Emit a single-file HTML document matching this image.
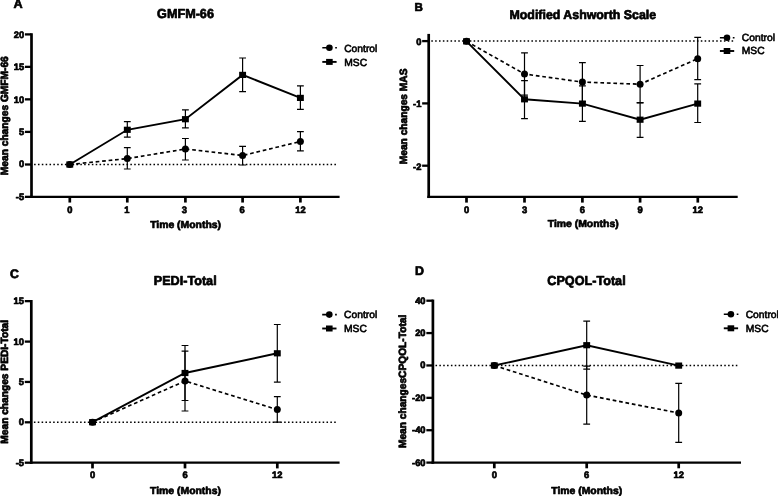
<!DOCTYPE html>
<html lang="en">
<head>
<meta charset="utf-8">
<title>Figure: Mean changes in GMFM-66, MAS, PEDI and CPQOL</title>
<style>
html,body{margin:0;padding:0;background:#fff;}
body{width:778px;height:496px;overflow:hidden;}
svg{display:block;filter:blur(0.35px);}
svg text{font-family:"Liberation Sans", Arial, Helvetica, sans-serif;text-rendering:geometricPrecision;fill:#000;stroke:#000;stroke-width:0.45px;stroke-linejoin:round;}
</style>
</head>
<body>
<svg width="778" height="496" viewBox="0 0 778 496">
<rect x="0" y="0" width="778" height="496" fill="#fff"/>
<g>
<line x1="34.1" y1="164.5" x2="336.8" y2="164.5" stroke="#000" stroke-width="1.5" stroke-dasharray="1.55 2.3"/>
<line x1="31.5" y1="33.25" x2="31.5" y2="198.0" stroke="#000" stroke-width="2.7"/>
<line x1="30.15" y1="196.85" x2="339.6" y2="196.85" stroke="#000" stroke-width="2.3"/>
<line x1="24.95" y1="34.4" x2="31.5" y2="34.4" stroke="#000" stroke-width="2.3"/>
<text transform="translate(24.15 38.05) scale(1.0 1)" text-anchor="end" font-size="9.35" font-weight="bold" style="stroke-width:0.7px">20</text>
<line x1="24.95" y1="66.85" x2="31.5" y2="66.85" stroke="#000" stroke-width="2.3"/>
<text transform="translate(24.15 70.2) scale(1.0 1)" text-anchor="end" font-size="9.35" font-weight="bold" style="stroke-width:0.7px">15</text>
<line x1="24.95" y1="99.35" x2="31.5" y2="99.35" stroke="#000" stroke-width="2.3"/>
<text transform="translate(24.15 102.55) scale(1.0 1)" text-anchor="end" font-size="9.35" font-weight="bold" style="stroke-width:0.7px">10</text>
<line x1="24.95" y1="131.9" x2="31.5" y2="131.9" stroke="#000" stroke-width="2.3"/>
<text transform="translate(24.15 134.95) scale(1.0 1)" text-anchor="end" font-size="9.35" font-weight="bold" style="stroke-width:0.7px">5</text>
<line x1="24.95" y1="164.5" x2="31.5" y2="164.5" stroke="#000" stroke-width="2.3"/>
<text transform="translate(24.15 167.35) scale(1.0 1)" text-anchor="end" font-size="9.35" font-weight="bold" style="stroke-width:0.7px">0</text>
<line x1="24.95" y1="196.85" x2="31.5" y2="196.85" stroke="#000" stroke-width="2.3"/>
<text transform="translate(24.15 199.8) scale(1.0 1)" text-anchor="end" font-size="9.35" font-weight="bold" style="stroke-width:0.7px">-5</text>
<line x1="69.8" y1="196.85" x2="69.8" y2="202.55" stroke="#000" stroke-width="2.7"/>
<text transform="translate(69.8 212.55) scale(1.0 1)" text-anchor="middle" font-size="9.35" font-weight="bold" style="stroke-width:0.7px">0</text>
<line x1="127.3" y1="196.85" x2="127.3" y2="202.55" stroke="#000" stroke-width="2.7"/>
<text transform="translate(126.8 212.55) scale(1.0 1)" text-anchor="middle" font-size="9.35" font-weight="bold" style="stroke-width:0.7px">1</text>
<line x1="185.4" y1="196.85" x2="185.4" y2="202.55" stroke="#000" stroke-width="2.7"/>
<text transform="translate(184.3 212.55) scale(1.0 1)" text-anchor="middle" font-size="9.35" font-weight="bold" style="stroke-width:0.7px">3</text>
<line x1="242.6" y1="196.85" x2="242.6" y2="202.55" stroke="#000" stroke-width="2.7"/>
<text transform="translate(242.0 212.55) scale(1.0 1)" text-anchor="middle" font-size="9.35" font-weight="bold" style="stroke-width:0.7px">6</text>
<line x1="300.4" y1="196.85" x2="300.4" y2="202.55" stroke="#000" stroke-width="2.7"/>
<text transform="translate(300.4 212.55) scale(1.0 1)" text-anchor="middle" font-size="9.35" font-weight="bold" style="stroke-width:0.7px">12</text>
<path d="M127.3 147.7 V169 M123.9 147.7 H130.7 M123.9 169 H130.7" fill="none" stroke="#000" stroke-width="1.2"/>
<path d="M185.4 138.5 V160 M182.0 138.5 H188.8 M182.0 160 H188.8" fill="none" stroke="#000" stroke-width="1.2"/>
<path d="M242.6 146.3 V165 M239.2 146.3 H246.0 M239.2 165 H246.0" fill="none" stroke="#000" stroke-width="1.2"/>
<path d="M300.4 131.7 V150.8 M297.0 131.7 H303.8 M297.0 150.8 H303.8" fill="none" stroke="#000" stroke-width="1.2"/>
<path d="M127.3 121.6 V137.2 M123.9 121.6 H130.7 M123.9 137.2 H130.7" fill="none" stroke="#000" stroke-width="1.2"/>
<path d="M185.4 109.8 V127.8 M182.0 109.8 H188.8 M182.0 127.8 H188.8" fill="none" stroke="#000" stroke-width="1.2"/>
<path d="M242.6 58 V91.6 M239.2 58 H246.0 M239.2 91.6 H246.0" fill="none" stroke="#000" stroke-width="1.2"/>
<path d="M300.4 85.8 V109.3 M297.0 85.8 H303.8 M297.0 109.3 H303.8" fill="none" stroke="#000" stroke-width="1.2"/>
<path d="M69.8 164.5 L127.3 158.6 L185.4 149 L242.6 155.5 L300.4 141.5" fill="none" stroke="#000" stroke-width="1.65" stroke-dasharray="3.7 2.8"/>
<circle cx="69.8" cy="164.5" r="3.5" fill="#000"/>
<circle cx="127.3" cy="158.6" r="3.5" fill="#000"/>
<circle cx="185.4" cy="149" r="3.5" fill="#000"/>
<circle cx="242.6" cy="155.5" r="3.5" fill="#000"/>
<circle cx="300.4" cy="141.5" r="3.5" fill="#000"/>
<path d="M69.8 164.5 L127.3 129.8 L185.4 119.2 L242.6 74.9 L300.4 97.9" fill="none" stroke="#000" stroke-width="1.9"/>
<rect x="66.35" y="161.4" width="6.9" height="6.2" fill="#000"/>
<rect x="123.85" y="126.7" width="6.9" height="6.2" fill="#000"/>
<rect x="181.95" y="116.1" width="6.9" height="6.2" fill="#000"/>
<rect x="239.15" y="71.8" width="6.9" height="6.2" fill="#000"/>
<rect x="296.95" y="94.8" width="6.9" height="6.2" fill="#000"/>
<text transform="translate(185.5 18.25) scale(0.97 1)" text-anchor="middle" font-size="13.02" font-weight="bold" style="stroke-width:0.7px">GMFM-66</text>
<text x="185.6" y="227.85" text-anchor="middle" font-size="10.2" font-weight="bold" textLength="70.9" lengthAdjust="spacingAndGlyphs" style="stroke-width:0.68px">Time (Months)</text>
<text transform="translate(7.5 115.7) rotate(-90) scale(0.97 1)" text-anchor="middle" font-size="10.5" font-weight="bold" style="stroke-width:0.72px">Mean changes GMFM-66</text>
<text x="13.45" y="8.35" font-size="12.7" font-weight="bold" style="stroke-width:0.7px">A</text>
<line x1="322.3" y1="47.7" x2="336.9" y2="47.7" stroke="#000" stroke-width="1.6" stroke-dasharray="8.6 4.3 1.7 10"/>
<circle cx="329.4" cy="47.7" r="3.3" fill="#000"/>
<line x1="322.3" y1="61.9" x2="336.6" y2="61.9" stroke="#000" stroke-width="1.9"/>
<rect x="326.1" y="58.9" width="6.6" height="6.0" fill="#000"/>
<text x="344.2" y="51.7" font-size="10.3" style="stroke-width:0.6px">Control</text>
<text x="344.2" y="65.9" font-size="10.3" style="stroke-width:0.6px">MSC</text>
</g>
<g>
<line x1="431.3" y1="41.1" x2="734" y2="41.1" stroke="#000" stroke-width="1.5" stroke-dasharray="1.55 2.3"/>
<line x1="428.7" y1="33.9" x2="428.7" y2="198.05" stroke="#000" stroke-width="2.7"/>
<line x1="427.35" y1="196.9" x2="737.7" y2="196.9" stroke="#000" stroke-width="2.3"/>
<line x1="422.15" y1="41.1" x2="428.7" y2="41.1" stroke="#000" stroke-width="2.3"/>
<text transform="translate(421.35 44.9) scale(1.0 1)" text-anchor="end" font-size="9.35" font-weight="bold" style="stroke-width:0.7px">0</text>
<line x1="422.15" y1="103.4" x2="428.7" y2="103.4" stroke="#000" stroke-width="2.3"/>
<text transform="translate(421.35 107.2) scale(1.0 1)" text-anchor="end" font-size="9.35" font-weight="bold" style="stroke-width:0.7px">-1</text>
<line x1="422.15" y1="165.7" x2="428.7" y2="165.7" stroke="#000" stroke-width="2.3"/>
<text transform="translate(421.35 169.5) scale(1.0 1)" text-anchor="end" font-size="9.35" font-weight="bold" style="stroke-width:0.7px">-2</text>
<line x1="466.5" y1="196.9" x2="466.5" y2="202.6" stroke="#000" stroke-width="2.7"/>
<text transform="translate(466.5 212.55) scale(1.0 1)" text-anchor="middle" font-size="9.35" font-weight="bold" style="stroke-width:0.7px">0</text>
<line x1="524.5" y1="196.9" x2="524.5" y2="202.6" stroke="#000" stroke-width="2.7"/>
<text transform="translate(524.5 212.55) scale(1.0 1)" text-anchor="middle" font-size="9.35" font-weight="bold" style="stroke-width:0.7px">3</text>
<line x1="582.4" y1="196.9" x2="582.4" y2="202.6" stroke="#000" stroke-width="2.7"/>
<text transform="translate(582.4 212.55) scale(1.0 1)" text-anchor="middle" font-size="9.35" font-weight="bold" style="stroke-width:0.7px">6</text>
<line x1="640.1" y1="196.9" x2="640.1" y2="202.6" stroke="#000" stroke-width="2.7"/>
<text transform="translate(640.1 212.55) scale(1.0 1)" text-anchor="middle" font-size="9.35" font-weight="bold" style="stroke-width:0.7px">9</text>
<line x1="697.8" y1="196.9" x2="697.8" y2="202.6" stroke="#000" stroke-width="2.7"/>
<text transform="translate(697.8 212.55) scale(1.0 1)" text-anchor="middle" font-size="9.35" font-weight="bold" style="stroke-width:0.7px">12</text>
<path d="M524.5 52.9 V95.1 M521.1 52.9 H527.9 M521.1 95.1 H527.9" fill="none" stroke="#000" stroke-width="1.2"/>
<path d="M582.4 62.6 V101.6 M579.0 62.6 H585.8 M579.0 101.6 H585.8" fill="none" stroke="#000" stroke-width="1.2"/>
<path d="M640.1 65.5 V102.9 M636.7 65.5 H643.5 M636.7 102.9 H643.5" fill="none" stroke="#000" stroke-width="1.2"/>
<path d="M697.7 37.3 V79.7 M694.3 37.3 H701.1 M694.3 79.7 H701.1" fill="none" stroke="#000" stroke-width="1.2"/>
<path d="M524.5 80.6 V118.7 M521.1 80.6 H527.9 M521.1 118.7 H527.9" fill="none" stroke="#000" stroke-width="1.2"/>
<path d="M582.4 85.9 V121.3 M579.0 85.9 H585.8 M579.0 121.3 H585.8" fill="none" stroke="#000" stroke-width="1.2"/>
<path d="M640.1 102.6 V137.3 M636.7 102.6 H643.5 M636.7 137.3 H643.5" fill="none" stroke="#000" stroke-width="1.2"/>
<path d="M697.7 83.8 V122.5 M694.3 83.8 H701.1 M694.3 122.5 H701.1" fill="none" stroke="#000" stroke-width="1.2"/>
<path d="M466.5 41.35 L524.5 74 L582.4 82.1 L640.1 84.2 L697.7 58.7" fill="none" stroke="#000" stroke-width="1.65" stroke-dasharray="3.7 2.8"/>
<circle cx="466.5" cy="41.35" r="3.5" fill="#000"/>
<circle cx="524.5" cy="74" r="3.5" fill="#000"/>
<circle cx="582.4" cy="82.1" r="3.5" fill="#000"/>
<circle cx="640.1" cy="84.2" r="3.5" fill="#000"/>
<circle cx="697.7" cy="58.7" r="3.5" fill="#000"/>
<path d="M466.5 41.35 L524.5 99.3 L582.4 103.6 L640.1 119.7 L697.7 103.6" fill="none" stroke="#000" stroke-width="1.9"/>
<rect x="463.05" y="38.25" width="6.9" height="6.2" fill="#000"/>
<rect x="521.05" y="96.2" width="6.9" height="6.2" fill="#000"/>
<rect x="578.95" y="100.5" width="6.9" height="6.2" fill="#000"/>
<rect x="636.65" y="116.6" width="6.9" height="6.2" fill="#000"/>
<rect x="694.25" y="100.5" width="6.9" height="6.2" fill="#000"/>
<text transform="translate(582.8 18.75) scale(0.97 1)" text-anchor="middle" font-size="12.76" font-weight="bold" style="stroke-width:0.7px">Modified Ashworth Scale</text>
<text x="583.2" y="227.45" text-anchor="middle" font-size="10.2" font-weight="bold" textLength="70.9" lengthAdjust="spacingAndGlyphs" style="stroke-width:0.68px">Time (Months)</text>
<text transform="translate(407.2 116.4) rotate(-90) scale(0.97 1)" text-anchor="middle" font-size="10.5" font-weight="bold" style="stroke-width:0.72px">Mean changes MAS</text>
<text x="414.6" y="11.1" font-size="11.6" font-weight="bold" style="stroke-width:0.7px">B</text>
<line x1="719.9" y1="37.8" x2="734.5" y2="37.8" stroke="#000" stroke-width="1.6" stroke-dasharray="8.6 4.3 1.7 10"/>
<circle cx="727.0" cy="37.8" r="3.3" fill="#000"/>
<line x1="719.9" y1="51.0" x2="734.2" y2="51.0" stroke="#000" stroke-width="1.9"/>
<rect x="723.7" y="48.0" width="6.6" height="6.0" fill="#000"/>
<text x="741.8" y="41.0" font-size="10.3" style="stroke-width:0.6px">Control</text>
<text x="741.8" y="54.2" font-size="10.3" style="stroke-width:0.6px">MSC</text>
</g>
<g>
<line x1="33.9" y1="422.2" x2="336.8" y2="422.2" stroke="#000" stroke-width="1.5" stroke-dasharray="1.55 2.3"/>
<line x1="31.3" y1="300.0" x2="31.3" y2="463.85" stroke="#000" stroke-width="2.7"/>
<line x1="29.95" y1="462.7" x2="339.6" y2="462.7" stroke="#000" stroke-width="2.3"/>
<line x1="24.75" y1="301.15" x2="31.3" y2="301.15" stroke="#000" stroke-width="2.3"/>
<text transform="translate(23.95 304.1) scale(1.0 1)" text-anchor="end" font-size="9.35" font-weight="bold" style="stroke-width:0.7px">15</text>
<line x1="24.75" y1="341.6" x2="31.3" y2="341.6" stroke="#000" stroke-width="2.3"/>
<text transform="translate(23.95 344.55) scale(1.0 1)" text-anchor="end" font-size="9.35" font-weight="bold" style="stroke-width:0.7px">10</text>
<line x1="24.75" y1="381.95" x2="31.3" y2="381.95" stroke="#000" stroke-width="2.3"/>
<text transform="translate(23.95 384.9) scale(1.0 1)" text-anchor="end" font-size="9.35" font-weight="bold" style="stroke-width:0.7px">5</text>
<line x1="24.75" y1="422.3" x2="31.3" y2="422.3" stroke="#000" stroke-width="2.3"/>
<text transform="translate(23.95 425.25) scale(1.0 1)" text-anchor="end" font-size="9.35" font-weight="bold" style="stroke-width:0.7px">0</text>
<line x1="24.75" y1="462.7" x2="31.3" y2="462.7" stroke="#000" stroke-width="2.3"/>
<text transform="translate(23.95 465.65) scale(1.0 1)" text-anchor="end" font-size="9.35" font-weight="bold" style="stroke-width:0.7px">-5</text>
<line x1="92.5" y1="462.7" x2="92.5" y2="468.4" stroke="#000" stroke-width="2.7"/>
<text transform="translate(92.5 478.35) scale(1.0 1)" text-anchor="middle" font-size="9.35" font-weight="bold" style="stroke-width:0.7px">0</text>
<line x1="185.0" y1="462.7" x2="185.0" y2="468.4" stroke="#000" stroke-width="2.7"/>
<text transform="translate(185.0 478.35) scale(1.0 1)" text-anchor="middle" font-size="9.35" font-weight="bold" style="stroke-width:0.7px">6</text>
<line x1="277.3" y1="462.7" x2="277.3" y2="468.4" stroke="#000" stroke-width="2.7"/>
<text transform="translate(277.3 478.35) scale(1.0 1)" text-anchor="middle" font-size="9.35" font-weight="bold" style="stroke-width:0.7px">12</text>
<path d="M185 351.1 V411 M181.6 351.1 H188.4 M181.6 411 H188.4" fill="none" stroke="#000" stroke-width="1.2"/>
<path d="M277.3 396.6 V422.2 M273.9 396.6 H280.7 M273.9 422.2 H280.7" fill="none" stroke="#000" stroke-width="1.2"/>
<path d="M185 345.5 V400.5 M181.6 345.5 H188.4 M181.6 400.5 H188.4" fill="none" stroke="#000" stroke-width="1.2"/>
<path d="M277.3 324.5 V382.1 M273.9 324.5 H280.7 M273.9 382.1 H280.7" fill="none" stroke="#000" stroke-width="1.2"/>
<path d="M92.5 422.2 L185 381 L277.3 409.6" fill="none" stroke="#000" stroke-width="1.65" stroke-dasharray="3.7 2.8"/>
<circle cx="92.5" cy="422.2" r="3.5" fill="#000"/>
<circle cx="185" cy="381" r="3.5" fill="#000"/>
<circle cx="277.3" cy="409.6" r="3.5" fill="#000"/>
<path d="M92.5 422.2 L185 373 L277.3 353.3" fill="none" stroke="#000" stroke-width="1.9"/>
<rect x="89.05" y="419.1" width="6.9" height="6.2" fill="#000"/>
<rect x="181.55" y="369.9" width="6.9" height="6.2" fill="#000"/>
<rect x="273.85" y="350.2" width="6.9" height="6.2" fill="#000"/>
<text transform="translate(185.2 284.65) scale(0.97 1)" text-anchor="middle" font-size="13.02" font-weight="bold" style="stroke-width:0.7px">PEDI-Total</text>
<text x="185.5" y="493.85" text-anchor="middle" font-size="10.2" font-weight="bold" textLength="70.9" lengthAdjust="spacingAndGlyphs" style="stroke-width:0.68px">Time (Months)</text>
<text transform="translate(7.8 381.8) rotate(-90) scale(0.97 1)" text-anchor="middle" font-size="10.5" font-weight="bold" style="stroke-width:0.72px">Mean changes PEDI-Total</text>
<text x="10.1" y="278.1" font-size="12.3" font-weight="bold" style="stroke-width:0.7px">C</text>
<line x1="322.2" y1="314.6" x2="336.8" y2="314.6" stroke="#000" stroke-width="1.6" stroke-dasharray="8.6 4.3 1.7 10"/>
<circle cx="329.3" cy="314.6" r="3.3" fill="#000"/>
<line x1="322.2" y1="328.5" x2="336.5" y2="328.5" stroke="#000" stroke-width="1.9"/>
<rect x="326.0" y="325.5" width="6.6" height="6.0" fill="#000"/>
<text x="344.0" y="318.0" font-size="10.3" style="stroke-width:0.6px">Control</text>
<text x="344.0" y="332.0" font-size="10.3" style="stroke-width:0.6px">MSC</text>
</g>
<g>
<line x1="435.5" y1="365.5" x2="738.2" y2="365.5" stroke="#000" stroke-width="1.5" stroke-dasharray="1.55 2.3"/>
<line x1="432.9" y1="299.55" x2="432.9" y2="463.75" stroke="#000" stroke-width="2.7"/>
<line x1="431.55" y1="462.6" x2="741.0" y2="462.6" stroke="#000" stroke-width="2.3"/>
<line x1="426.35" y1="300.7" x2="432.9" y2="300.7" stroke="#000" stroke-width="2.3"/>
<text transform="translate(425.55 303.65) scale(1.0 1)" text-anchor="end" font-size="9.35" font-weight="bold" style="stroke-width:0.7px">40</text>
<line x1="426.35" y1="333.08" x2="432.9" y2="333.08" stroke="#000" stroke-width="2.3"/>
<text transform="translate(425.55 336.03) scale(1.0 1)" text-anchor="end" font-size="9.35" font-weight="bold" style="stroke-width:0.7px">20</text>
<line x1="426.35" y1="365.46" x2="432.9" y2="365.46" stroke="#000" stroke-width="2.3"/>
<text transform="translate(425.55 368.41) scale(1.0 1)" text-anchor="end" font-size="9.35" font-weight="bold" style="stroke-width:0.7px">0</text>
<line x1="426.35" y1="397.84" x2="432.9" y2="397.84" stroke="#000" stroke-width="2.3"/>
<text transform="translate(425.55 400.79) scale(1.0 1)" text-anchor="end" font-size="9.35" font-weight="bold" style="stroke-width:0.7px">-20</text>
<line x1="426.35" y1="430.22" x2="432.9" y2="430.22" stroke="#000" stroke-width="2.3"/>
<text transform="translate(425.55 433.17) scale(1.0 1)" text-anchor="end" font-size="9.35" font-weight="bold" style="stroke-width:0.7px">-40</text>
<line x1="426.35" y1="462.6" x2="432.9" y2="462.6" stroke="#000" stroke-width="2.3"/>
<text transform="translate(425.55 465.55) scale(1.0 1)" text-anchor="end" font-size="9.35" font-weight="bold" style="stroke-width:0.7px">-60</text>
<line x1="494.3" y1="462.6" x2="494.3" y2="468.3" stroke="#000" stroke-width="2.7"/>
<text transform="translate(494.3 478.35) scale(1.0 1)" text-anchor="middle" font-size="9.35" font-weight="bold" style="stroke-width:0.7px">0</text>
<line x1="586.7" y1="462.6" x2="586.7" y2="468.3" stroke="#000" stroke-width="2.7"/>
<text transform="translate(586.7 478.35) scale(1.0 1)" text-anchor="middle" font-size="9.35" font-weight="bold" style="stroke-width:0.7px">6</text>
<line x1="678.7" y1="462.6" x2="678.7" y2="468.3" stroke="#000" stroke-width="2.7"/>
<text transform="translate(678.7 478.35) scale(1.0 1)" text-anchor="middle" font-size="9.35" font-weight="bold" style="stroke-width:0.7px">12</text>
<path d="M586.7 366.2 V424.1 M583.3 366.2 H590.1 M583.3 424.1 H590.1" fill="none" stroke="#000" stroke-width="1.2"/>
<path d="M678.7 383.4 V442.4 M675.3 383.4 H682.1 M675.3 442.4 H682.1" fill="none" stroke="#000" stroke-width="1.2"/>
<path d="M586.7 321.2 V369.2 M583.3 321.2 H590.1 M583.3 369.2 H590.1" fill="none" stroke="#000" stroke-width="1.2"/>
<path d="M494.3 365.5 L586.7 395.1 L678.7 413" fill="none" stroke="#000" stroke-width="1.65" stroke-dasharray="3.7 2.8"/>
<circle cx="494.3" cy="365.5" r="3.5" fill="#000"/>
<circle cx="586.7" cy="395.1" r="3.5" fill="#000"/>
<circle cx="678.7" cy="413" r="3.5" fill="#000"/>
<path d="M494.3 365.5 L586.7 345.2 L678.7 365.6" fill="none" stroke="#000" stroke-width="1.9"/>
<rect x="490.85" y="362.4" width="6.9" height="6.2" fill="#000"/>
<rect x="583.25" y="342.1" width="6.9" height="6.2" fill="#000"/>
<rect x="675.25" y="362.5" width="6.9" height="6.2" fill="#000"/>
<text transform="translate(586.5 284.65) scale(0.97 1)" text-anchor="middle" font-size="13.02" font-weight="bold" style="stroke-width:0.7px">CPQOL-Total</text>
<text x="586.7" y="493.85" text-anchor="middle" font-size="10.2" font-weight="bold" textLength="70.9" lengthAdjust="spacingAndGlyphs" style="stroke-width:0.68px">Time (Months)</text>
<text transform="translate(405.7 381.4) rotate(-90) scale(0.97 1)" text-anchor="middle" font-size="10.5" font-weight="bold" style="stroke-width:0.72px">Mean changesCPQOL-Total</text>
<text x="415.0" y="275.3" font-size="12.4" font-weight="bold" style="stroke-width:0.7px">D</text>
<line x1="723.8" y1="314.3" x2="738.4" y2="314.3" stroke="#000" stroke-width="1.6" stroke-dasharray="8.6 4.3 1.7 10"/>
<circle cx="730.9" cy="314.3" r="3.3" fill="#000"/>
<line x1="723.8" y1="328.3" x2="738.1" y2="328.3" stroke="#000" stroke-width="1.9"/>
<rect x="727.6" y="325.3" width="6.6" height="6.0" fill="#000"/>
<text x="745.7" y="317.6" font-size="10.3" style="stroke-width:0.6px">Control</text>
<text x="745.7" y="331.6" font-size="10.3" style="stroke-width:0.6px">MSC</text>
</g>
</svg>
</body>
</html>
